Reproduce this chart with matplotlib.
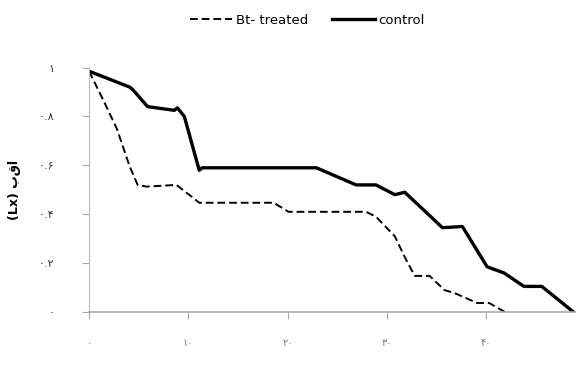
import matplotlib
matplotlib.use('Agg')
import matplotlib.pyplot as plt

# survival (Lx) over time
bt_x = [0, 1.4, 2.8, 4.1, 4.9, 5.8, 8.8, 10.4, 11.1, 18.6, 20.1, 27.9, 28.9,
        30.8, 31.8, 32.8, 34.3, 35.8, 36.8, 39.1, 40.3, 41.9]
bt_y = [0.985, 0.87, 0.75, 0.595, 0.52, 0.513, 0.52, 0.47, 0.447, 0.447, 0.41,
        0.41, 0.39, 0.31, 0.225, 0.148, 0.148, 0.09, 0.078, 0.037, 0.037, 0.0]

ctrl_x = [0, 4.1, 4.4, 5.9, 8.6, 8.9, 9.6, 11.1, 11.4, 22.9, 26.9, 28.9, 30.8,
          31.8, 35.6, 37.6, 40.1, 41.8, 43.8, 45.6, 48.8]
ctrl_y = [0.985, 0.92, 0.91, 0.84, 0.825, 0.835, 0.80, 0.58, 0.59, 0.59, 0.52,
          0.52, 0.48, 0.49, 0.345, 0.35, 0.185, 0.16, 0.105, 0.105, 0.0]

xticks = [0, 10, 20, 30, 40]
xlabels = ['۰', '۱۰', '۲۰', '۳۰', '۴۰']
yticks = [0, 0.2, 0.4, 0.6, 0.8, 1.0]
ylabels = ['۰', '۰.۲', '۰.۴', '۰.۶', '۰.۸', '۱']

fig = plt.figure(figsize=(5.78, 3.65), dpi=100)
ax = fig.add_axes([0.154, 0.145, 0.84, 0.67])

ax.plot(bt_x, bt_y, color='black', linestyle=(0, (4, 2)), linewidth=1.4, label='Bt- treated')
ax.plot(ctrl_x, ctrl_y, color='black', linestyle='-', linewidth=2.4, label='control')

ax.set_xlim(0, 48.9)
ax.set_ylim(0, 1.0)
ax.set_xticks(xticks)
ax.set_xticklabels(xlabels, color='#777777', fontsize=7)
ax.set_yticks(yticks)
ax.set_yticklabels(ylabels, color='#333333', fontsize=8)
ax.tick_params(axis='x', direction='out', length=5, color='#aaaaaa', pad=14)
ax.tick_params(axis='y', direction='out', length=5, color='#aaaaaa', pad=20)

for side in ['top', 'right']:
    ax.spines[side].set_visible(False)
ax.spines['left'].set_color('#bbbbbb')
ax.spines['bottom'].set_color('#aaaaaa')
ax.spines['bottom'].set_linewidth(1.2)

ax.set_ylabel('(Lx) بقا', fontsize=9, fontweight='bold')
ax.yaxis.set_label_coords(-0.14, 0.5)

fig.legend(loc='upper center', bbox_to_anchor=(0.532, 0.995), ncol=2, frameon=False,
           fontsize=9.5, handlelength=3.2, columnspacing=1.8, handletextpad=0.3)

fig.savefig('out.png', dpi=100)
